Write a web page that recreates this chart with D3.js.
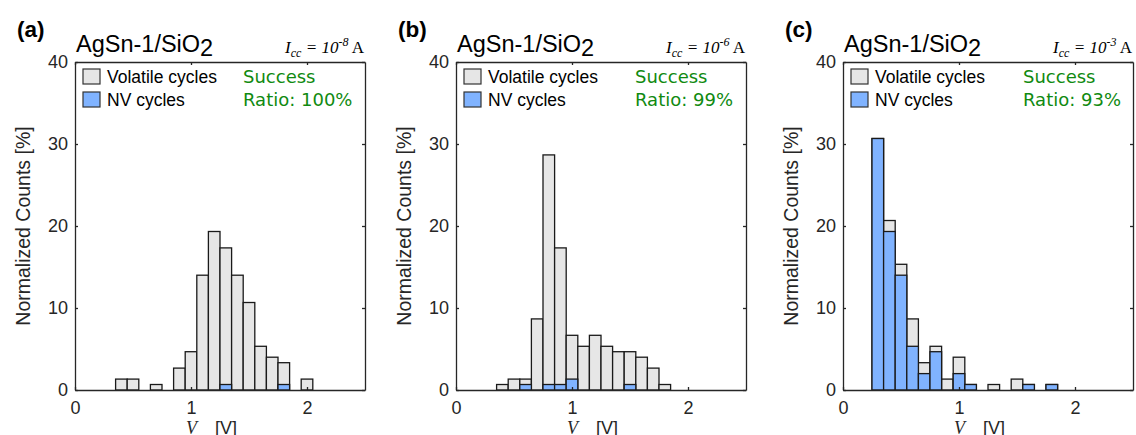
<!DOCTYPE html>
<html>
<head>
<meta charset="utf-8">
<script src="https://cdn.jsdelivr.net/npm/d3@7"></script>
<style>
  body { margin: 0; background: #fff; }
  svg { display: block; }
</style>
</head>
<body>
<svg id="chart" width="1136" height="435"></svg>
<script>
// bin centres [V] and normalized counts [%]
let centers_a = [0.4, 0.5, 0.7, 0.9, 1.0, 1.1, 1.2, 1.3, 1.4, 1.5, 1.6, 1.7, 1.8, 2.0]
let all_a = [1.33, 1.33, 0.67, 2.67, 4.67, 14.0, 19.33, 17.33, 14.0, 10.67, 5.33, 4.0, 3.33, 1.33]
let nv_a = [0, 0, 0, 0, 0, 0, 0, 0.67, 0, 0, 0, 0, 0.67, 0]

let centers_b = [0.4, 0.5, 0.6, 0.7, 0.8, 0.9, 1.0, 1.1, 1.2, 1.3, 1.4, 1.5, 1.6, 1.7, 1.8]
let all_b = [0.67, 1.33, 1.33, 8.67, 28.67, 17.33, 6.67, 5.33, 6.67, 5.33, 4.67, 4.67, 4.0, 2.67, 0.67]
let nv_b = [0, 0, 0.67, 0, 0.67, 0.67, 1.33, 0, 0, 0, 0, 0.67, 0, 0, 0]

let centers_c = [0.3, 0.4, 0.5, 0.6, 0.7, 0.8, 0.9, 1.0, 1.1, 1.3, 1.5, 1.6, 1.8]
let all_c = [30.67, 20.67, 15.33, 8.67, 3.33, 5.33, 1.33, 4.0, 0.67, 0.67, 1.33, 0.67, 0.67]
let nv_c = [30.67, 19.33, 14.0, 5.33, 2.0, 4.67, 0, 2.0, 0.67, 0, 0, 0.67, 0.67]

let panel_letters = ["(a)", "(b)", "(c)"]
let icc_exponents = ["-8", "-6", "-3"]
let success_ratios = ["100%", "99%", "93%"]
let x_ticks = [0, 1, 2]
let y_ticks = [0, 10, 20, 30, 40]
let bin_width = 0.1

let panels = [
  {centers: centers_a, all: all_a, nv: nv_a, left: 75, ratio_x: 168},
  {centers: centers_b, all: all_b, nv: nv_b, left: 456, ratio_x: 179},
  {centers: centers_c, all: all_c, nv: nv_c, left: 843, ratio_x: 180}
]

let width = 290, height = 328, margin_top = 62
let axis_color = "#262626"
let sans = "'Liberation Sans', Arial, sans-serif"
let serif = "'Liberation Serif', 'Times New Roman', serif"

let svg = d3.select("#chart")

let x = d3.scaleLinear().domain([0, 2.5]).range([0, width])
let y = d3.scaleLinear().domain([0, 40]).range([height, 0])

panels.forEach(function (p, k) {
  let bins = p.centers.map(function (c, i) {
    return {c: c, all: p.all[i], nv: p.nv[i]}
  })

  let g = svg.append("g").attr("transform", `translate(${p.left}, ${margin_top})`)

  // all cycles (grey), NV cycles drawn over it (blue)
  g.selectAll(".bar-all")
    .data(bins)
    .join("rect")
    .attr("class", "bar-all")
    .attr("x", function (d) { return x(d.c - bin_width / 2) })
    .attr("y", function (d) { return y(d.all) })
    .attr("width", function (d) { return x(d.c + bin_width / 2) - x(d.c - bin_width / 2) })
    .attr("height", function (d) { return y(0) - y(d.all) })
    .attr("fill", "#e6e6e6")
    .attr("stroke", "#1a1a1a")
    .attr("stroke-width", 1.3)

  g.selectAll(".bar-nv")
    .data(bins.filter(function (d) { return d.nv > 0 }))
    .join("rect")
    .attr("class", "bar-nv")
    .attr("x", function (d) { return x(d.c - bin_width / 2) })
    .attr("y", function (d) { return y(d.nv) })
    .attr("width", function (d) { return x(d.c + bin_width / 2) - x(d.c - bin_width / 2) })
    .attr("height", function (d) { return y(0) - y(d.nv) })
    .attr("fill", "#80b3ff")
    .attr("stroke", "#1a1a1a")
    .attr("stroke-width", 1.3)

  //X axis (bottom + top)
  g.append("g")
    .attr("class", "x-axis-g")
    .attr("transform", `translate(0, ${height})`)
    .call(d3.axisBottom(x).tickValues(x_ticks).tickSizeInner(-3).tickSizeOuter(0).tickPadding(11).tickFormat(d3.format("d")))
  g.append("g")
    .attr("class", "x-top-g")
    .call(d3.axisTop(x).tickValues(x_ticks).tickSizeInner(-3).tickSizeOuter(0).tickFormat(""))

  //Y axis (left + right)
  g.append("g")
    .attr("class", "y-axis-g")
    .call(d3.axisLeft(y).tickValues(y_ticks).tickSizeInner(-3).tickSizeOuter(0).tickPadding(7))
  g.append("g")
    .attr("class", "y-right-g")
    .attr("transform", `translate(${width}, 0)`)
    .call(d3.axisRight(y).tickValues(y_ticks).tickSizeInner(-3).tickSizeOuter(0).tickFormat(""))

  g.selectAll(".domain, .tick line")
    .attr("stroke", axis_color)
    .attr("stroke-width", 1.3)
  g.selectAll(".tick text")
    .attr("fill", axis_color)
    .style("font-family", sans)
    .style("font-size", "18px")

  // axis labels
  g.append("text")
    .attr("transform", `translate(-45, ${height / 2}) rotate(-90)`)
    .attr("text-anchor", "middle")
    .attr("fill", axis_color)
    .style("font-family", sans)
    .style("font-size", "19.5px")
    .text("Normalized Counts [%]")

  let xl = g.append("text")
    .attr("x", 111)
    .attr("y", height + 44)
    .attr("fill", axis_color)
    .style("font-size", "18px")
  xl.append("tspan").style("font-family", serif).style("font-style", "italic").text("V")
  xl.append("tspan").attr("x", 140).style("font-family", sans).text("[V]")

  // panel letter and title
  svg.append("text")
    .attr("x", p.left - 58)
    .attr("y", 37)
    .attr("fill", "#000")
    .style("font-family", sans)
    .style("font-weight", "bold")
    .style("font-size", "22.5px")
    .text(panel_letters[k])

  let title = g.append("text")
    .attr("x", 1)
    .attr("y", -10)
    .attr("fill", "#000")
    .style("font-family", sans)
    .style("font-size", "23.5px")
  title.append("tspan").text("AgSn-1/SiO")
  title.append("tspan").attr("dy", 4).text("2")

  // compliance current
  let icc = g.append("text")
    .attr("x", width - 1)
    .attr("y", -9)
    .attr("text-anchor", "end")
    .attr("fill", "#000")
    .style("font-family", serif)
    .style("font-size", "17px")
  icc.append("tspan").style("font-style", "italic").text("I")
  icc.append("tspan").attr("dy", 4).style("font-style", "italic").style("font-size", "12px").text("cc")
  icc.append("tspan").attr("dy", -4).style("font-style", "italic").text(" = 10")
  icc.append("tspan").attr("dy", -7).style("font-style", "italic").style("font-size", "12px").text(icc_exponents[k])
  icc.append("tspan").attr("dy", 7).text(" A")

  // legend
  let legend = [
    {label: "Volatile cycles", fill: "#e6e6e6"},
    {label: "NV cycles", fill: "#80b3ff"}
  ]
  let lg = g.selectAll(".legend")
    .data(legend)
    .join("g")
    .attr("class", "legend")
    .attr("transform", function (d, i) { return `translate(8, ${7 + i * 23})` })
  lg.append("rect")
    .attr("width", 17)
    .attr("height", 15)
    .attr("fill", function (d) { return d.fill })
    .attr("stroke", "#333")
    .attr("stroke-width", 1.2)
  lg.append("text")
    .attr("x", 24)
    .attr("y", 14)
    .attr("fill", "#000")
    .style("font-family", sans)
    .style("font-size", "17.5px")
    .text(function (d) { return d.label })

  // success ratio
  g.append("text")
    .attr("x", p.ratio_x)
    .attr("y", 21)
    .attr("fill", "#108a10")
    .style("font-family", "'DejaVu Sans', sans-serif")
    .style("font-size", "18px")
    .text("Success")
  g.append("text")
    .attr("x", p.ratio_x)
    .attr("y", 44)
    .attr("fill", "#108a10")
    .style("font-family", "'DejaVu Sans', sans-serif")
    .style("font-size", "18px")
    .text("Ratio: " + success_ratios[k])
})
</script>
</body>
</html>
